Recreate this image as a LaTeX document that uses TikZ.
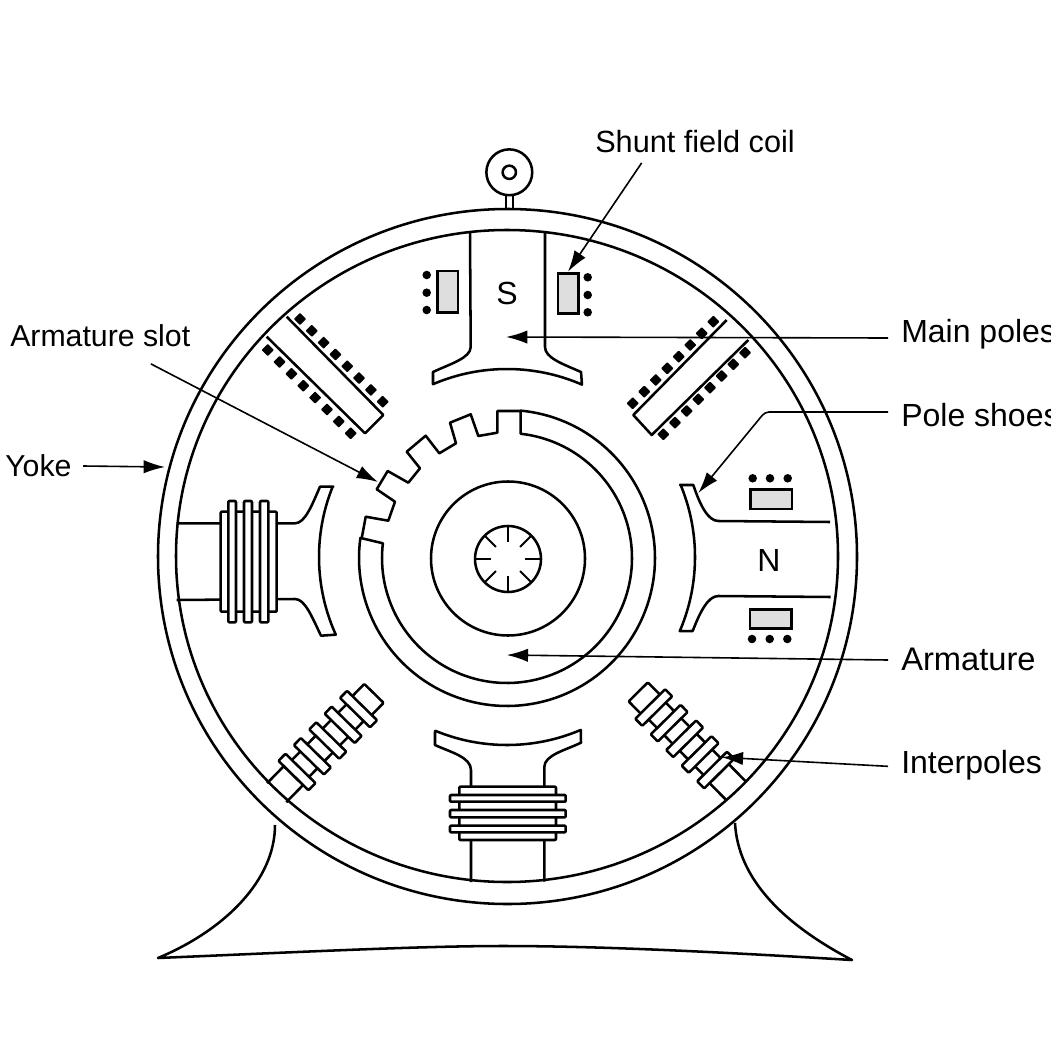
\documentclass[tikz,border=0pt]{standalone}
\usepackage{fontspec}
\setmainfont{Liberation Sans}
\usetikzlibrary{arrows.meta}
\tikzset{
  shape line/.style={line width=1.9pt,line join=round},
  coilbar/.style={shape line,fill=white,rounded corners=0.7pt},
  shaded coil/.style={line width=2pt,fill=black!13},
  leader/.style={line width=1.2pt,-{Latex[length=16pt,width=10pt]}},
  biglabel/.style={inner sep=0pt,anchor=base west,font=\fontsize{24}{28}\selectfont},
  sidelabel/.style={inner sep=0pt,anchor=base west,font=\fontsize{22.7}{27}\selectfont},
}
\newcommand{\dotrow}[4]{%
  \foreach \i in {0,...,7}{%
    \pgfmathsetmacro\pxa{#1+(#3-#1)*\i/7}%
    \pgfmathsetmacro\pya{#2+(#4-#2)*\i/7}%
    \fill[rounded corners=0.6pt] (\pxa+6.2,\pya) -- (\pxa,\pya+6.2) -- (\pxa-6.2,\pya) -- (\pxa,\pya-6.2) -- cycle;
  }}
\newcommand{\interpolebody}[3]{%
  \begin{scope}[shift={(#1,#2)},rotate=#3]
    \draw[shape line] (0,13.5) -- (24,13.5);
    \draw[shape line] (0,-13.5) -- (24,-13.5);
    \draw[shape line] (24,12) rectangle (121,-12);
    \draw[coilbar] (121,13.5) rectangle (139,-13.5);
    \foreach \u in {29,51,73,95,117}{
      \draw[coilbar] (\u-5,21) rectangle (\u+5,-21);
    }
  \end{scope}}
\begin{document}
\begin{tikzpicture}[x=0.75pt,y=-0.75pt]
\useasboundingbox (0,0) rectangle (1050,1059);
\fill[white] (0,0) rectangle (1050,1059);

% yoke
\draw[shape line] (507.5,556.5) ellipse[x radius={349.5*0.75pt},y radius={347.5*0.75pt}];
\draw[shape line] (507,556) ellipse[x radius={331*0.75pt},y radius={326*0.75pt}];

% eye bolt
\draw[shape line] (509.3,172.3) circle[radius=17.2pt];
\draw[shape line] (509.3,172.3) circle[radius=5pt];
\draw[shape line] (506,194.5) -- (506,209);
\draw[shape line] (513,194.5) -- (513,209);

% base
\draw[shape line] (275,825) .. controls (275,880) and (225,930) .. (158,958)
  .. controls (300,952) and (420,946) .. (503,946)
  .. controls (600,946) and (720,952) .. (852,960)
  .. controls (785,925) and (738,880) .. (735,823);

% armature
\draw[shape line] (361.7,538.3) -- (365.7,516.7) -- (388.3,520.7) -- (395,501.7) -- (376.7,489.3)
  -- (387.7,471) -- (408.3,482.7) -- (420,468.3) -- (406.7,451.7) -- (425.7,435.7) -- (439.3,453.3)
  -- (456,443.3) -- (450,422.7) -- (470.7,414.3) -- (478.3,436) -- (497.3,432.7) -- (497.3,411) -- (520.7,411)
  -- plot[domain=84.7:-187.8,samples=120] ({507+148*cos(\x)},{558-148*sin(\x)})
  -- (381.7,543)
  -- plot[domain=-186.8:83.7,samples=120] ({507+125*cos(\x)},{558-125*sin(\x)})
  -- (520.7,411);
\draw[shape line] (508,558.5) circle[radius=57.75pt];
\draw[shape line] (508,559) circle[radius=24.75pt];
\foreach \a in {0,45,...,315}{
  \draw[line width=1.4pt] ({508+33*cos(\a)},{559-33*sin(\a)}) -- ({508+17*cos(\a)},{559-17*sin(\a)});
}

% top pole (S)
\draw[shape line] (470,232) -- (470.7,347) .. controls (470.7,358) and (450,364) .. (433,372)
  -- (433,384) -- plot[domain=113.2:66.5,samples=36] ({507+188*cos(\x)},{557-188*sin(\x)}) -- (581,372)
  .. controls (563,364) and (545,358) .. (545,347) -- (545,232);
\draw[shaded coil] (437.3,271) rectangle (458,312.7);
\draw[shaded coil] (558,273.3) rectangle (578.3,313.3);
\foreach \y in {275,292.7,310}{\fill (426.7,\y) circle[radius=3.2pt];}
\foreach \y in {277.3,295,312.3}{\fill (587.7,\y) circle[radius=3.2pt];}

% right pole (N)
\draw[shape line] (830,522) -- (718.3,521) .. controls (708,521) and (700,505) .. (693.3,485)
  -- (680,485) -- plot[domain=22.6:-23.2,samples=36] ({507+188*cos(\x)},{557-188*sin(\x)}) -- (692.7,631)
  .. controls (700,612) and (708,596) .. (718.3,596) -- (830.7,597);
\draw[shaded coil] (750.7,489.3) rectangle (792,509);
\draw[shaded coil] (750,609.3) rectangle (791.3,628.3);
\foreach \x in {752.7,770,787.7}{\fill (\x,478.3) circle[radius=3.2pt];}
\foreach \x in {752,769.7,787.3}{\fill (\x,639) circle[radius=3.2pt];}

% left pole
\draw[shape line] (176.7,523.3) -- (295,523.3) .. controls (305,523.3) and (312,505) .. (320,486.7)
  -- (333.3,486.7) -- plot[domain=158:204.4,samples=36] ({507+188*cos(\x)},{557-188*sin(\x)}) -- (321,635.7)
  .. controls (312,617) and (305,599) .. (295,599) -- (176.7,600);
\draw[coilbar] (220.7,511.7) rectangle (276.7,611.7);
\draw[coilbar] (228.3,501) rectangle (236,622.3);
\draw[coilbar] (244,501) rectangle (252,622.3);
\draw[coilbar] (260,501) rectangle (268.3,622.3);

% bottom pole
\draw[shape line] (471,882) -- (471,770) .. controls (471,757) and (450,752) .. (435,745)
  -- (435,731.7) -- plot[domain=247.6:293.1,samples=36] ({507+188*cos(\x)},{557-188*sin(\x)}) -- (581,742.7)
  .. controls (566,750) and (544.3,755) .. (544.3,767) -- (544.3,881.5);
\draw[coilbar] (459.3,786.7) rectangle (556,840);
\draw[coilbar] (450,795) rectangle (565.7,801.7);
\draw[coilbar] (450,810) rectangle (565.7,817.3);
\draw[coilbar] (450,825.7) rectangle (565.7,832.3);

% diagonal coils, upper left and upper right
\draw[shape line] (286.7,316.7) -- (383.3,415) -- (365,433.3) -- (266.7,336.7);
\dotrow{300}{319}{382.7}{401.7}
\dotrow{267.7}{350}{350.7}{433.3}
\draw[shape line] (726.7,320) -- (633.3,415) -- (651.7,435) -- (748.3,340);
\dotrow{713.3}{321.7}{632.7}{403.3}
\dotrow{745}{352.7}{663.3}{434.3}

% interpoles
\interpolebody{276.7}{792.7}{45.6}
\interpolebody{736}{790.7}{134.7}

% pole letters
\node[biglabel,anchor=center] (poleS) at (507,293) {S};
\node[biglabel,anchor=center] (poleN) at (769,560) {N};

% labels
\node[biglabel,font=\fontsize{23}{28}\selectfont] (lshunt) at (595,153) {Shunt field coil};
\node[sidelabel] (lslot) at (10,346) {Armature slot};
\node[sidelabel] (lyoke) at (5,476) {Yoke};
\node[biglabel] (lmain) at (901,342) {Main poles};
\node[biglabel] (lshoes) at (901,426) {Pole shoes};
\node[biglabel,font=\fontsize{24.5}{28}\selectfont] (larm) at (901,670) {Armature};
\node[biglabel] (linter) at (901,773) {Interpoles};

% arrow targets
\coordinate (tshunt) at (568,271.7);
\coordinate (tslot) at (378,482);
\coordinate (tyoke) at (165,467);
\coordinate (tmain) at (506,337);
\coordinate (tshoes) at (698.3,493);
\coordinate (bendshoes) at (765,412);
\coordinate (tarm) at (506.7,655);
\coordinate (tinter) at (721.7,757.3);

\draw[leader] ([shift={(-40pt,-7pt)}]lshunt.south) -- (tshunt);
\draw[leader] ([shift={(38pt,-13pt)}]lslot.south) -- (tslot);
\draw[leader] ([shift={(8.5pt,7.5pt)}]lyoke.base east) -- (tyoke);
\draw[leader] ([shift={(-9.75pt,3pt)}]lmain.base west) -- (tmain);
\draw[leader,rounded corners=3pt] ([shift={(-9.75pt,10.5pt)}]lshoes.base west) -- (bendshoes) -- (tshoes);
\draw[leader] ([shift={(-9.75pt,7.5pt)}]larm.base west) -- (tarm);
\draw[leader] ([shift={(-9.75pt,5pt)}]linter.base west) -- (tinter);
\end{tikzpicture}
\end{document}
